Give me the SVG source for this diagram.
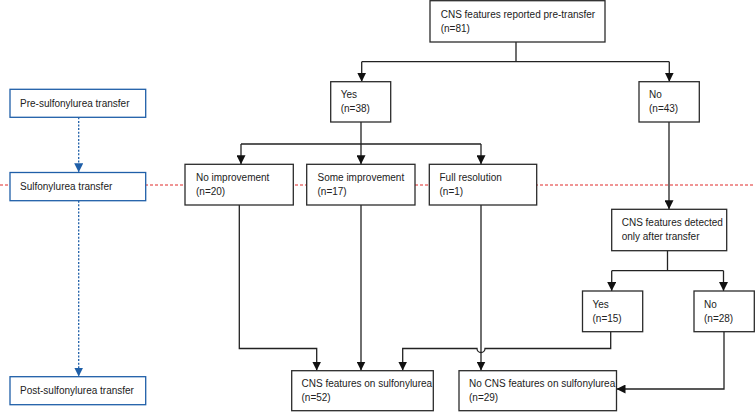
<svg xmlns="http://www.w3.org/2000/svg" width="755" height="412" viewBox="0 0 755 412">
<style>
.box{fill:#fff;stroke:#2b2b2b;stroke-width:1.3}
.bbox{fill:#fff;stroke:#1f5fa8;stroke-width:1.3}
.t{font-family:"Liberation Sans",Arial,sans-serif;font-size:10px;fill:#222}
.c{fill:none;stroke:#222;stroke-width:1.3}
.bl{fill:none;stroke:#1f5fa8;stroke-width:1.3;stroke-dasharray:2,1.6}
.red{fill:none;stroke:#e02b2b;stroke-width:1;stroke-dasharray:3,2}
</style>
<defs>
<marker id="ah" markerUnits="userSpaceOnUse" markerWidth="9" markerHeight="9" refX="9" refY="4.5" orient="auto">
<path d="M0,0 L9,4.5 L0,9 z" fill="#111"/>
</marker>
<marker id="bh" markerUnits="userSpaceOnUse" markerWidth="9" markerHeight="9" refX="9" refY="4.5" orient="auto">
<path d="M0,0 L9,4.5 L0,9 z" fill="#1f5fa8"/>
</marker>
</defs>
<rect width="755" height="412" fill="#fff"/>
<line class="red" x1="0" y1="185" x2="755" y2="185"/>
<g id="connectors">
<path class="c" d="M516,42 V61.7 M361.7,61.7 H669.3"/>
<path class="c" d="M361.7,61.7 V81.7" marker-end="url(#ah)"/>
<path class="c" d="M669.3,61.7 V81.7" marker-end="url(#ah)"/>
<path class="c" d="M361,122 V144 M241,144 H481"/>
<path class="c" d="M241,144 V164.3" marker-end="url(#ah)"/>
<path class="c" d="M361,144 V164.3" marker-end="url(#ah)"/>
<path class="c" d="M481,144 V164.3" marker-end="url(#ah)"/>
<path class="c" d="M669,122 V209.3" marker-end="url(#ah)"/>
<path class="c" d="M667.5,250.7 V270.7 M611.7,270.7 H723.5"/>
<path class="c" d="M611.7,270.7 V291" marker-end="url(#ah)"/>
<path class="c" d="M723.5,270.7 V291" marker-end="url(#ah)"/>
<path class="c" d="M239.3,205 V348.5 H316.7 V370.5" marker-end="url(#ah)"/>
<path class="c" d="M361,205 V370.5" marker-end="url(#ah)"/>
<path class="c" d="M481,205 V370.5" marker-end="url(#ah)"/>
<path class="c" d="M610.7,331.7 V348.5 H485 A4,4 0 0 1 477,348.5 H402.7 V370.5" marker-end="url(#ah)"/>
<path class="c" d="M724,331.7 V389 H616.5" marker-end="url(#ah)"/>
<path class="bl" d="M78.7,117.3 V172.3" marker-end="url(#bh)"/>
<path class="bl" d="M78.7,200.7 V376.5" marker-end="url(#bh)"/>
</g>
<g id="pre-transfer"><rect class="bbox" x="10" y="89.3" width="135.7" height="28"/><text class="t" x="20" y="106.8">Pre-sulfonylurea transfer</text></g>
<g id="transfer"><rect class="bbox" x="10" y="172.5" width="135.7" height="28.2"/><text class="t" x="20" y="190">Sulfonylurea transfer</text></g>
<g id="post-transfer"><rect class="bbox" x="10" y="376.7" width="135.7" height="28"/><text class="t" x="20" y="394.2">Post-sulfonylurea transfer</text></g>
<g id="cns-pre"><rect class="box" x="430" y="0.7" width="175" height="41.3"/><text class="t" x="440.7" y="18">CNS features reported pre-transfer</text><text class="t" x="440.7" y="31.5">(n=81)</text></g>
<g id="yes"><rect class="box" x="330.7" y="81.7" width="60" height="40.3"/><text class="t" x="340.7" y="98.3">Yes</text><text class="t" x="340.7" y="112.3">(n=38)</text></g>
<g id="no"><rect class="box" x="639" y="81.7" width="60.3" height="40.3"/><text class="t" x="649" y="98.3">No</text><text class="t" x="649" y="112.3">(n=43)</text></g>
<g id="no-improvement"><rect class="box" x="185" y="164.3" width="108.3" height="40.7"/><text class="t" x="196" y="181">No improvement</text><text class="t" x="196" y="195">(n=20)</text></g>
<g id="some-improvement"><rect class="box" x="306.7" y="164.3" width="108.3" height="40.7"/><text class="t" x="317.5" y="181">Some improvement</text><text class="t" x="317.5" y="195">(n=17)</text></g>
<g id="full-resolution"><rect class="box" x="429.3" y="164.3" width="107.4" height="40.7"/><text class="t" x="439.5" y="181">Full resolution</text><text class="t" x="439.5" y="195">(n=1)</text></g>
<g id="cns-after"><rect class="box" x="611.7" y="209.3" width="115" height="41.4"/><text class="t" x="621.7" y="225.7">CNS features detected</text><text class="t" x="621.7" y="239.5">only after transfer</text></g>
<g id="yes2"><rect class="box" x="582.5" y="291" width="60.2" height="40.7"/><text class="t" x="592.5" y="307.5">Yes</text><text class="t" x="592.5" y="321.5">(n=15)</text></g>
<g id="no2"><rect class="box" x="694" y="291" width="60.3" height="40.7"/><text class="t" x="704" y="307.5">No</text><text class="t" x="704" y="321.5">(n=28)</text></g>
<g id="cns-on"><rect class="box" x="291.7" y="370.7" width="141.6" height="40"/><text class="t" x="301.5" y="387.3">CNS features on sulfonylurea</text><text class="t" x="301.5" y="401.3">(n=52)</text></g>
<g id="no-cns-on"><rect class="box" x="459" y="370.7" width="157.5" height="40"/><text class="t" x="469" y="387.3">No CNS features on sulfonylurea</text><text class="t" x="469" y="401.3">(n=29)</text></g>
</svg>
